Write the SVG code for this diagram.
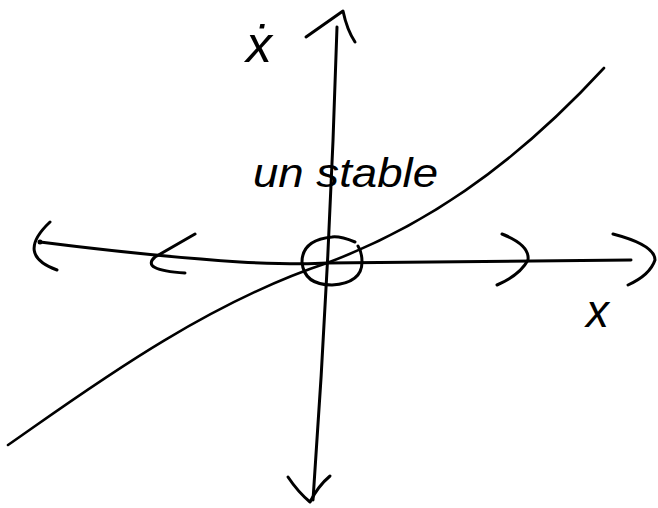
<svg xmlns="http://www.w3.org/2000/svg" width="658" height="508" viewBox="0 0 658 508">
  <style>
    .ink { fill: none; stroke: #000; stroke-width: 3; stroke-linecap: round; stroke-linejoin: round; }
    .thin { stroke-width: 2.6; }
    .hand { font-family: "Liberation Sans", "DejaVu Sans", sans-serif; font-style: italic; fill: #000; }
  </style>
  <rect width="658" height="508" fill="#fff"/>
  <g id="axes">
    <g id="y-axis">
      <path class="ink" d="M337,27 Q330,260 313,500"/>
      <path class="ink" d="M306,37 L343,11 Q347,30 355,42"/>
      <path class="ink" d="M288,477 Q298,492 310,502 Q318,486 330,476"/>
    </g>
    <g id="x-axis">
      <circle cx="40" cy="242" r="2.5" fill="#000"/>
      <path class="ink" d="M40,242 Q150,256 240,262 Q300,265 327,263 L631,260"/>
    </g>
  </g>
  <g id="flow-arrows">
    <path class="ink" d="M50,222 Q15,255 57,270"/>
    <path class="ink" d="M195,234 L155,257 Q140,270 185,273"/>
    <path class="ink" d="M502,234 Q530,245 528,260 Q520,275 497,285"/>
    <path class="ink" d="M613,234 Q655,245 655,260 Q650,275 628,285"/>
  </g>
  <g id="fixed-point">
    <path class="ink" d="M355,242 Q340,236 332,237 Q302,240 302,262 Q304,285 332,285 Q362,283 362,262 Q362,252 358,246"/>
  </g>
  <g id="curve">
    <path class="ink thin" d="M8,445 C80,395 200,305 327,263 C420,228 510,170 604,68"/>
  </g>
  <g id="labels">
    <text class="hand" x="246" y="62" font-size="52">ẋ</text>
    <text class="hand" x="586" y="327" font-size="46">x</text>
    <text class="hand" x="253" y="187" font-size="40" textLength="185" lengthAdjust="spacingAndGlyphs">un stable</text>
  </g>
</svg>
